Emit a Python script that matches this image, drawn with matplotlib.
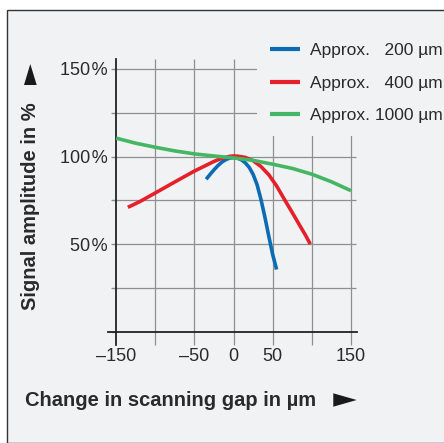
import matplotlib
matplotlib.use("Agg")
import matplotlib.pyplot as plt
from matplotlib.patches import Polygon, Rectangle

plt.rcParams['font.family'] = ['Liberation Sans', 'DejaVu Sans']

# ---- data ----
x_200 = [-35, -30, -25, -20, -15, -10, -5, 0, 5, 10, 15, 20, 25, 30, 35, 40, 45, 50, 55]
y_200 = [87, 89.8, 92.4, 94.8, 96.8, 98.2, 99.1, 99.4, 99.1, 98.1, 96.4, 93.8, 89.8, 84.0, 75.5, 65.5, 54.5, 44.0, 35.5]

x_400 = [-135, -120, -100, -75, -50, -35, -25, -15, -5, 0, 5, 15, 25, 35, 45, 55, 65, 75, 85, 92, 98]
y_400 = [71, 74.2, 79.2, 85.5, 91.7, 95.0, 97.2, 99.0, 100.1, 100.3, 100.2, 99.5, 97.6, 94.3, 89.6, 83.2, 75.5, 68.0, 60.3, 55.0, 50]

x_1000 = [-150, -125, -100, -75, -50, -25, 0, 25, 50, 75, 100, 125, 150]
y_1000 = [110.5, 107.6, 105.3, 103.2, 101.5, 100.3, 99.2, 97.8, 95.6, 93.2, 89.9, 85.6, 80.5]

series_labels = ["Approx. \u2007200 µm", "Approx. \u2007400 µm", "Approx. 1000 µm"]
series_colors = ["#0b6cb4", "#e5202b", "#45b764"]

x_ticks = [-150, -100, -50, 0, 50, 100, 150]
x_ticklabels = ["\u2013150", "", "\u201350", "0", "50", "", "150"]
y_ticks = [0, 25, 50, 75, 100, 125, 150]
y_ticklabels = ["", "", "50\u200a%", "", "100\u200a%", "", "150\u200a%"]

BG = "#f1f2f4"
GRID = "#8f8f8f"
TXT = "#2a2a2a"

W, H = 444, 443
fig = plt.figure(figsize=(W / 100, H / 100), dpi=100)
fig.patch.set_facecolor("white")

# framed panel background
fig.add_artist(Rectangle((6.7 / W, 0), 1.2, 1 - 10 / H, transform=fig.transFigure,
                         facecolor=BG, edgecolor="#333333", linewidth=1.0, zorder=0))

ax = fig.add_axes([108.3 / W, 1 - 331.7 / H, (356.7 - 108.3) / W, (331.7 - 59.3) / H])
ax.set_facecolor("none")
ax.set_xlim(-160, 157.3)
ax.set_ylim(0, 155.5)

# grid
for yv in y_ticks[1:]:
    ax.plot([-155, 156], [yv, yv], color=GRID, lw=0.9, zorder=1, solid_capstyle="butt")
for xv in x_ticks[1:]:
    ax.plot([xv, xv], [-7.5, 155.5], color=GRID, lw=0.9, zorder=1, solid_capstyle="butt", clip_on=False)
ax.plot([-150, -150], [-7.5, 0], color="#222222", lw=1.3, zorder=2, clip_on=False)

lines = []
for xs, ys, c, lab in zip([x_200, x_400, x_1000], [y_200, y_400, y_1000], series_colors, series_labels):
    l, = ax.plot(xs, ys, color=c, lw=2.6, label=lab, zorder=3, solid_capstyle="butt")
    lines.append(l)

for s in ["top", "right"]:
    ax.spines[s].set_visible(False)
ax.spines["left"].set_position(("data", -150))
ax.spines["left"].set_color("#222222")
ax.spines["left"].set_linewidth(1.3)
ax.spines["bottom"].set_color("#222222")
ax.spines["bottom"].set_linewidth(1.3)

ax.set_xticks(x_ticks)
ax.set_xticklabels(x_ticklabels)
ax.set_yticks(y_ticks)
ax.set_yticklabels(y_ticklabels)
ax.tick_params(axis="x", length=0, pad=12, labelsize=13, labelcolor=TXT)
ax.tick_params(axis="y", length=3.5, width=0.9, color=GRID, pad=2.5, labelsize=13, labelcolor=TXT)

leg = ax.legend(handles=lines, loc="upper left", bbox_to_anchor=(257 / W, 1 - 30 / H),
                bbox_transform=fig.transFigure, frameon=True, facecolor=BG, edgecolor="none",
                framealpha=1.0, fontsize=12.5, handlelength=1.75, handletextpad=0.55,
                labelspacing=1.0, borderpad=0.75, borderaxespad=0, labelcolor=TXT)
leg.set_zorder(5)
for lh in leg.get_lines():
    lh.set_linewidth(3)

# axis titles
fig.text(25 / W, 1 - 401 / H, "Change in scanning gap in µm", ha="left", va="center",
         fontsize=14.5, fontweight="bold", color=TXT)
fig.text(30.5 / W, 1 - 206.5 / H, "Signal amplitude in %", ha="center", va="center",
         rotation=90, fontsize=14.5, fontweight="bold", color=TXT)

# arrows
def px(pts):
    return [(x / W, 1 - y / H) for x, y in pts]

fig.add_artist(Polygon(px([(333.3, 393.3), (333.3, 406.7), (356.7, 400)]), closed=True,
                       transform=fig.transFigure, facecolor="#1a1a1a", edgecolor="none"))
fig.add_artist(Polygon(px([(24, 85), (36.7, 85), (30.3, 64)]), closed=True,
                       transform=fig.transFigure, facecolor="#1a1a1a", edgecolor="none"))

fig.savefig("out.png", dpi=100, facecolor=fig.get_facecolor())
